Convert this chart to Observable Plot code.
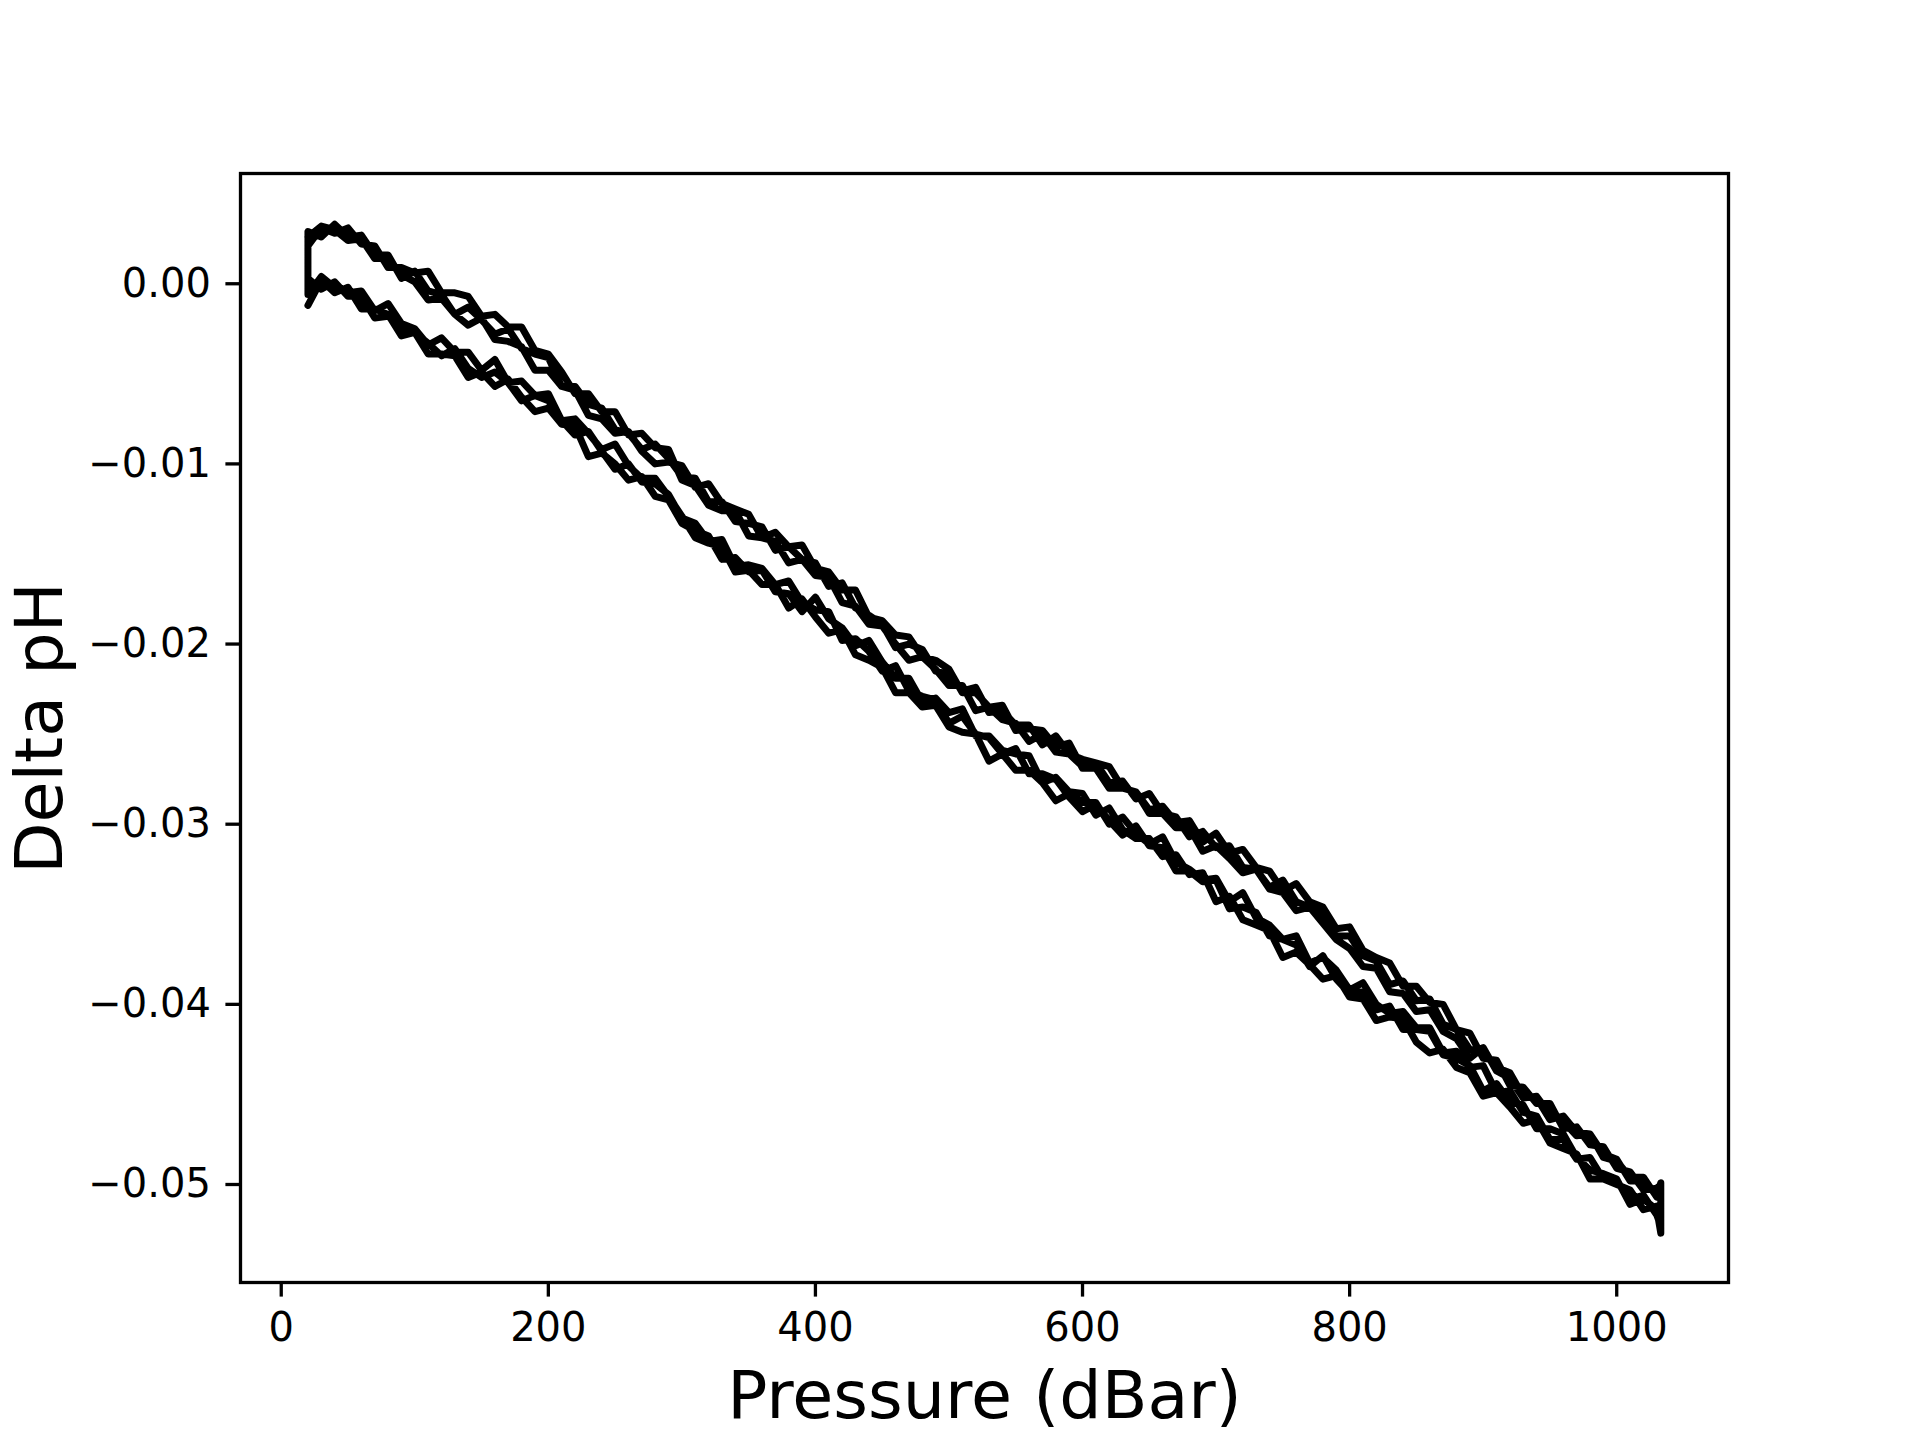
<!DOCTYPE html>
<html><head><meta charset="utf-8">
<script src="https://cdn.jsdelivr.net/npm/d3@7"></script>
<script src="https://cdn.jsdelivr.net/npm/@observablehq/plot@0.6"></script>
<style>html,body{margin:0;padding:0;background:#fff;} #chart{width:1920px;height:1440px;}</style>
</head><body><div id="chart"></div>
<script>
// Pressure grid (dBar)
const pressure = [
  20,30,40,50,60,70,80,90,100,110,
  120,130,140,150,160,170,180,190,200,210,
  220,230,240,250,260,270,280,290,300,310,
  320,330,340,350,360,370,380,390,400,410,
  420,430,440,450,460,470,480,490,500,510,
  520,530,540,550,560,570,580,590,600,610,
  620,630,640,650,660,670,680,690,700,710,
  720,730,740,750,760,770,780,790,800,810,
  820,830,840,850,860,870,880,890,900,910,
  920,930,940,950,960,970,980,990,1000,1010,
  1020,1030,1033
];
// Delta pH in units of 0.001 pH
const down1 = [
  -1.2,0.2,-0.5,-0.2,-1.4,-1.4,-1.7,-2.9,-2.7,-3.3,
  -4.0,-3.6,-4.7,-5.2,-4.9,-5.5,-6.5,-6.2,-6.5,-7.6,
  -8.4,-8.2,-9.3,-10.3,-10.0,-11.0,-11.1,-11.7,-13.0,-13.3,
  -14.3,-14.2,-15.7,-15.6,-15.8,-16.7,-16.5,-17.7,-18.1,-18.2,
  -19.8,-19.7,-20.4,-21.5,-21.2,-22.6,-22.9,-23.1,-24.4,-24.0,
  -25.0,-25.2,-26.1,-25.8,-27.2,-27.2,-27.5,-28.5,-29.3,-28.9,
  -29.8,-30.6,-30.1,-31.2,-31.3,-32.6,-32.6,-33.2,-33.1,-34.7,
  -34.6,-34.9,-36.2,-36.4,-36.7,-37.9,-37.3,-38.6,-39.4,-39.3,
  -40.3,-40.1,-41.4,-41.4,-41.5,-42.8,-43.0,-43.4,-44.8,-44.4,
  -45.4,-45.6,-46.9,-46.9,-47.2,-48.5,-49.2,-49.4,-49.7,-51.1,
  -50.8,-51.4,-52.7
];
const up1 = [
  2.9,2.6,3.3,2.6,2.7,1.6,1.6,0.3,0.7,-0.4,
  -0.6,-1.7,-1.3,-2.0,-2.8,-2.5,-3.6,-3.9,-4.1,-5.7,
  -5.7,-6.7,-6.9,-8.1,-8.3,-9.2,-8.9,-9.7,-10.7,-10.8,
  -12.1,-12.1,-13.2,-13.3,-13.5,-14.8,-14.6,-15.3,-15.5,-16.8,
  -16.6,-18.0,-18.4,-18.9,-20.2,-20.0,-20.3,-21.5,-21.7,-22.6,
  -22.4,-23.8,-23.7,-24.5,-24.5,-25.6,-25.1,-26.1,-26.4,-26.6,
  -27.7,-27.6,-28.6,-28.3,-29.4,-29.6,-30.7,-30.4,-31.3,-31.2,
  -32.4,-32.5,-33.5,-33.1,-34.3,-34.6,-34.9,-36.2,-36.2,-37.3,
  -37.6,-38.9,-38.7,-39.8,-39.7,-41.1,-41.4,-42.5,-42.6,-43.5,
  -43.8,-45.1,-45.2,-46.4,-46.2,-47.1,-47.2,-48.5,-48.7,-49.6,
  -49.6,-50.7,-49.9
];
const down2 = [
  0.3,-0.3,0.1,-0.7,-0.7,-1.9,-1.8,-2.4,-2.7,-3.9,
  -3.9,-4.0,-5.2,-4.9,-5.7,-5.3,-6.3,-7.1,-6.9,-7.8,
  -7.9,-9.6,-9.4,-10.0,-10.9,-10.7,-11.8,-12.0,-13.3,-13.7,
  -14.0,-15.3,-15.2,-16.0,-15.9,-17.1,-17.2,-18.2,-17.4,-18.6,
  -19.1,-20.1,-19.8,-21.0,-21.9,-21.9,-23.2,-23.0,-23.8,-23.6,
  -25.1,-25.1,-25.9,-26.1,-26.2,-27.7,-27.4,-28.2,-28.3,-29.5,
  -29.1,-30.3,-30.8,-30.8,-31.8,-31.7,-32.8,-32.7,-34.3,-34.0,
  -35.3,-35.6,-35.9,-37.4,-37.1,-37.8,-38.6,-38.4,-39.6,-39.7,
  -40.9,-40.7,-40.8,-42.1,-42.7,-42.5,-43.5,-43.8,-45.1,-44.9,
  -45.7,-46.6,-46.4,-47.7,-48.0,-48.3,-49.7,-49.7,-49.8,-50.8,
  -50.6,-51.7,-52.3
];
const up2 = [
  2.1,3.1,2.8,3.1,2.2,2.1,0.9,0.9,0.6,0.7,
  -0.5,-0.5,-0.7,-1.8,-1.7,-2.4,-2.4,-3.7,-3.9,-4.9,
  -6.1,-6.1,-7.1,-7.1,-8.4,-8.3,-9.1,-9.2,-10.9,-11.2,
  -12.3,-12.6,-12.6,-14.0,-14.1,-14.3,-15.5,-15.3,-16.2,-16.3,
  -17.7,-17.9,-18.9,-19.0,-20.0,-20.9,-20.7,-21.4,-22.3,-22.3,
  -23.7,-23.5,-24.2,-24.4,-25.4,-25.0,-26.0,-26.1,-26.8,-26.6,
  -26.8,-28.0,-28.2,-29.2,-29.0,-29.9,-29.8,-31.0,-30.5,-31.6,
  -31.4,-32.4,-32.6,-33.7,-33.3,-34.3,-34.6,-35.8,-35.7,-37.0,
  -37.4,-37.7,-39.0,-39.0,-39.9,-40.0,-41.4,-41.6,-43.0,-43.1,
  -44.5,-44.6,-45.5,-45.5,-46.9,-46.8,-47.8,-47.9,-49.1,-49.3,
  -50.3,-50.2,-50.0
];
const down3 = [
  -0.6,0.4,-0.2,-0.5,-0.4,-1.5,-1.1,-2.2,-2.5,-3.4,
  -3.0,-3.8,-3.8,-4.8,-4.2,-5.5,-5.4,-6.2,-6.1,-7.6,
  -7.5,-8.3,-9.2,-8.9,-10.1,-10.8,-10.8,-11.8,-12.9,-14.1,
  -14.4,-14.6,-16.0,-15.9,-16.7,-16.7,-18.0,-17.5,-18.5,-19.4,
  -19.2,-20.6,-20.9,-21.3,-22.7,-22.7,-23.5,-23.4,-24.6,-24.9,
  -25.0,-26.5,-26.1,-27.0,-27.0,-27.7,-28.7,-28.3,-28.8,-28.8,
  -30.0,-29.6,-30.5,-31.1,-30.7,-32.1,-32.5,-33.1,-33.0,-34.3,
  -33.8,-35.2,-35.6,-36.4,-36.2,-37.7,-37.4,-38.1,-39.2,-38.8,
  -40.0,-40.5,-40.4,-41.3,-41.3,-42.7,-42.6,-43.5,-43.4,-44.9,
  -44.8,-46.0,-46.2,-47.5,-47.5,-48.6,-48.5,-49.7,-50.0,-50.3,
  -51.4,-51.2,-51.9
];
const up3 = [
  2.6,3.2,3.0,2.4,2.5,1.4,1.4,0.5,0.1,-0.9,
  -0.8,-1.7,-2.3,-1.9,-3.1,-3.2,-3.5,-4.8,-4.8,-5.7,
  -5.9,-7.3,-7.5,-8.3,-8.2,-9.3,-10.0,-9.9,-10.1,-11.3,
  -11.1,-12.2,-12.5,-12.8,-14.1,-13.8,-14.6,-14.5,-15.8,-16.0,
  -17.0,-17.0,-18.5,-18.7,-19.5,-19.6,-20.7,-20.9,-21.4,-22.7,
  -22.7,-23.5,-23.4,-24.8,-24.7,-24.8,-25.7,-25.5,-26.9,-26.9,
  -28.0,-28.0,-28.2,-29.4,-29.4,-30.2,-30.2,-31.5,-31.2,-31.9,
  -32.7,-32.5,-33.6,-33.8,-34.8,-34.6,-35.5,-36.4,-36.9,-37.9,
  -38.0,-39.3,-39.4,-40.4,-40.3,-41.5,-41.9,-43.0,-42.4,-43.7,
  -44.1,-45.2,-45.1,-46.1,-46.5,-47.3,-47.2,-48.3,-48.6,-49.8,
  -49.8,-50.6,-50.3
];
const xTicks = [0,200,400,600,800,1000];
const yTicks = [0,-0.01,-0.02,-0.03,-0.04,-0.05];
const xLabel = "Pressure (dBar)";
const yLabel = "Delta pH";

// One continuous trace: each cycle goes down (increasing pressure) then back up
const cycles = [[down1, up1],[down2, up2],[down3, up3]];
const rows = [];
cycles.forEach(([dn, up]) => {
  for (let i = 0; i < pressure.length; i++) rows.push({p: pressure[i], v: dn[i] / 1000});
  for (let i = pressure.length - 1; i >= 0; i--) rows.push({p: pressure[i], v: up[i] / 1000});
});

const chart = Plot.plot({
  width: 1920, height: 1440,
  marginLeft: 240, marginRight: 192, marginTop: 173, marginBottom: 158,
  style: {fontFamily: "DejaVu Sans", fontSize: "40px", background: "white", color: "black"},
  x: {domain: [-30.5, 1083.7]},
  y: {domain: [-0.05544, 0.00612]},
  marks: [
    Plot.line(rows, {x: "p", y: "v", stroke: "black", strokeWidth: 7, strokeLinejoin: "round", strokeLinecap: "round"}),
    Plot.frame({stroke: "black", strokeWidth: 3.3}),
    Plot.axisX({ticks: xTicks, tickFormat: d3.format("d"), tickSize: 14.6, tickPadding: 15, fontSize: 40, strokeWidth: 3.3, label: null}),
    Plot.axisY({ticks: yTicks, tickFormat: d3.format(".2f"), tickSize: 14.6, tickPadding: 15, fontSize: 40, strokeWidth: 3.3, label: null}),
    Plot.text([xLabel], {text: d => d, frameAnchor: "bottom", textAnchor: "middle", lineAnchor: "middle", dy: 114, fontSize: 66.7}),
    Plot.text([yLabel], {text: d => d, frameAnchor: "left", textAnchor: "middle", lineAnchor: "middle", dx: -200, rotate: -90, fontSize: 66.7})
  ]
});
document.getElementById("chart").appendChild(chart);
</script></body></html>
